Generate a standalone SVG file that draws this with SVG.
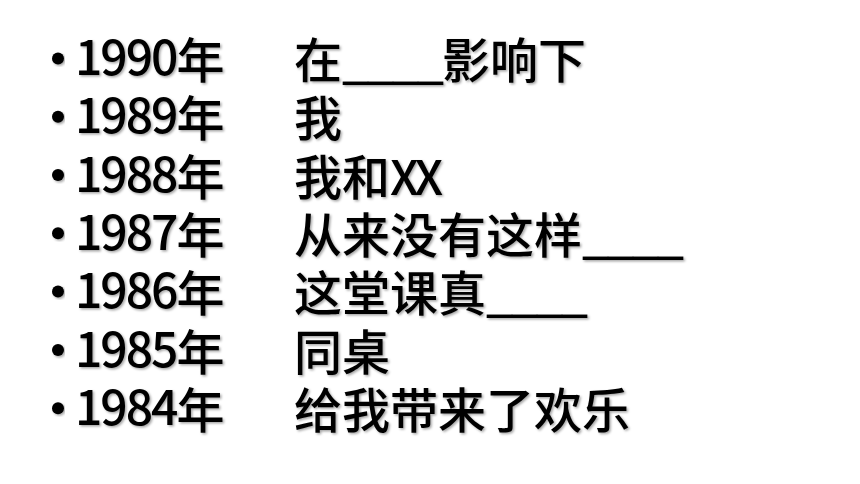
<svg xmlns="http://www.w3.org/2000/svg" width="860" height="484" viewBox="0 0 860 484">
<defs>
<filter id="sh" x="-5%" y="-20%" width="110%" height="140%">
<feDropShadow dx="1.5" dy="1.5" stdDeviation="1" flood-color="#000" flood-opacity="0.35"/>
</filter>
<style>
.t{font-family:"Noto Sans CJK SC","Noto Sans",sans-serif;font-size:48px;font-weight:500;fill:#000;filter:url(#sh)}
.n{letter-spacing:-2px}
.u{letter-spacing:-2px}
.x{letter-spacing:-4px}
.b{fill:#000;filter:url(#sh)}
</style>
</defs>
<rect width="860" height="484" fill="#fff"/>
<g id="row1"><circle class="b" cx="58" cy="58.4" r="6"/><text class="t" x="75" y="78"><tspan class="n" dy="-3">1990</tspan><tspan dy="3">年</tspan></text><text class="t" x="294" y="78">在<tspan class="u">____</tspan>影响下</text></g>
<g id="row2"><circle class="b" cx="58" cy="116.7" r="6"/><text class="t" x="75" y="136.3"><tspan class="n" dy="-3">1989</tspan><tspan dy="3">年</tspan></text><text class="t" x="294" y="136.3">我</text></g>
<g id="row3"><circle class="b" cx="58" cy="175" r="6"/><text class="t" x="75" y="194.6"><tspan class="n" dy="-3">1988</tspan><tspan dy="3">年</tspan></text><text class="t" x="294" y="194.6">我和<tspan class="x">XX</tspan></text></g>
<g id="row4"><circle class="b" cx="58" cy="233.3" r="6"/><text class="t" x="75" y="252.9"><tspan class="n" dy="-3">1987</tspan><tspan dy="3">年</tspan></text><text class="t" x="294" y="252.9">从来没有这样<tspan class="u">____</tspan></text></g>
<g id="row5"><circle class="b" cx="58" cy="291.6" r="6"/><text class="t" x="75" y="311.2"><tspan class="n" dy="-3">1986</tspan><tspan dy="3">年</tspan></text><text class="t" x="294" y="311.2">这堂课真<tspan class="u">____</tspan></text></g>
<g id="row6"><circle class="b" cx="58" cy="349.9" r="6"/><text class="t" x="75" y="369.5"><tspan class="n" dy="-3">1985</tspan><tspan dy="3">年</tspan></text><text class="t" x="294" y="369.5">同桌</text></g>
<g id="row7"><circle class="b" cx="58" cy="408.2" r="6"/><text class="t" x="75" y="427.8"><tspan class="n" dy="-3">1984</tspan><tspan dy="3">年</tspan></text><text class="t" x="294" y="427.8">给我带来了欢乐</text></g>
</svg>
